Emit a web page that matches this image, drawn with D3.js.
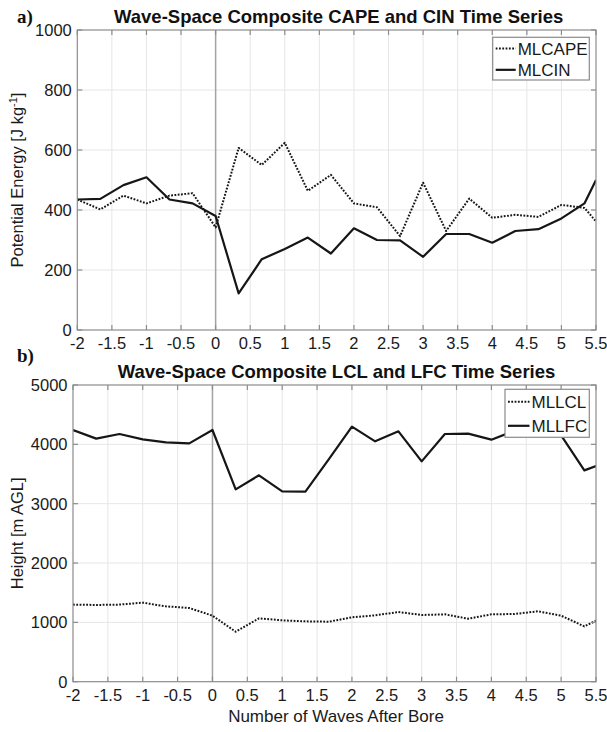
<!DOCTYPE html>
<html>
<head>
<meta charset="utf-8">
<script src="https://cdn.jsdelivr.net/npm/d3@7"></script>
<style>
  html, body { margin: 0; padding: 0; background: #fff; }
  svg { display: block; }
</style>
</head>
<body>
<svg id="fig" width="607" height="732"></svg>
<script>
// Wave-relative sample positions (number of waves after bore)
const waves = [-2, -1.667, -1.333, -1, -0.667, -0.333, 0, 0.333, 0.667, 1, 1.333, 1.667,
               2, 2.333, 2.667, 3, 3.333, 3.667, 4, 4.333, 4.667, 5, 5.333, 5.5];

// Panel a: mixed-layer CAPE and CIN [J kg^-1]
const mlcape = [435, 402, 448, 422, 448, 456, 342, 607, 550, 624, 464, 517,
                422, 409, 313, 491, 330, 438, 374, 384, 377, 417, 407, 362];
const mlcin  = [435, 437, 483, 509, 435, 422, 380, 122, 236, 270, 308, 255,
                339, 300, 299, 244, 320, 320, 291, 330, 336, 372, 422, 500];

// Panel b: mixed-layer LCL and LFC heights [m AGL]
const mllcl = [1299, 1293, 1299, 1332, 1270, 1242, 1113, 842, 1068, 1034, 1017, 1011,
               1085, 1118, 1175, 1124, 1135, 1062, 1135, 1141, 1186, 1113, 932, 1028];
const mllfc = [4242, 4096, 4174, 4084, 4034, 4017, 4242, 3242, 3478, 3208, 3202, 3747,
               4298, 4051, 4219, 3713, 4174, 4180, 4079, 4230, 4240, 4152, 3561, 3634];

// Axis ticks
const xTicks = [-2, -1.5, -1, -0.5, 0, 0.5, 1, 1.5, 2, 2.5, 3, 3.5, 4, 4.5, 5, 5.5];
const yTicksA = [0, 200, 400, 600, 800, 1000];
const yTicksB = [0, 1000, 2000, 3000, 4000, 5000];

const svg = d3.select("#fig");
svg.append("rect").attr("width", 607).attr("height", 732).attr("fill", "#fff");

const SANS = "'Liberation Sans', Arial, Helvetica, sans-serif";
const SERIF = "'Liberation Serif', 'Times New Roman', serif";
const FRAME = "#8c8c8c";
const GRID = "#e6e6e6";
const INK = "#161616";
const fmt = v => String(v);   // plain hyphen-minus, no trailing zeros

let clipId = 0;

function panel(opt) {
  const { left, right, top, bottom } = opt.box;
  const x = d3.scaleLinear().domain([-2, 5.5]).range([left, right]);
  const y = d3.scaleLinear().domain(opt.yDomain).range([bottom, top]);
  const g = svg.append("g");

  // grid
  g.append("g").selectAll("line").data(xTicks.slice(1, -1)).join("line")
    .attr("x1", d => x(d)).attr("x2", d => x(d))
    .attr("y1", top).attr("y2", bottom)
    .attr("stroke", GRID).attr("stroke-width", 1);
  g.append("g").selectAll("line").data(opt.yTicks.slice(1, -1)).join("line")
    .attr("x1", left).attr("x2", right)
    .attr("y1", d => y(d)).attr("y2", d => y(d))
    .attr("stroke", GRID).attr("stroke-width", 1);

  // bore passage marker at zero waves
  g.append("line")
    .attr("x1", x(0)).attr("x2", x(0)).attr("y1", top).attr("y2", bottom)
    .attr("stroke", "#a3a3a3").attr("stroke-width", 1.5);

  // series
  const id = "clip" + (clipId++);
  svg.append("clipPath").attr("id", id).append("rect")
    .attr("x", left).attr("y", top).attr("width", right - left).attr("height", bottom - top);
  const line = d3.line().x(d => x(d[0])).y(d => y(d[1]));
  opt.series.forEach(s => {
    g.append("path")
      .attr("clip-path", `url(#${id})`)
      .attr("d", line(waves.map((w, i) => [w, s.values[i]])))
      .attr("fill", "none").attr("stroke", INK)
      .attr("stroke-width", s.dotted ? 2 : 2.2)
      .attr("stroke-dasharray", s.dotted ? "1.8,1.5" : null)
      .attr("stroke-linejoin", "round");
  });

  // frame
  g.append("rect").attr("x", left).attr("y", top)
    .attr("width", right - left).attr("height", bottom - top)
    .attr("fill", "none").attr("stroke", FRAME).attr("stroke-width", 1.2);

  // inward ticks on all four sides
  const tl = 5;
  const tk = g.append("g").attr("stroke", FRAME).attr("stroke-width", 1.2);
  xTicks.forEach(t => {
    tk.append("line").attr("x1", x(t)).attr("x2", x(t)).attr("y1", bottom).attr("y2", bottom - tl);
    tk.append("line").attr("x1", x(t)).attr("x2", x(t)).attr("y1", top).attr("y2", top + tl);
  });
  opt.yTicks.forEach(t => {
    tk.append("line").attr("x1", left).attr("x2", left + tl).attr("y1", y(t)).attr("y2", y(t));
    tk.append("line").attr("x1", right).attr("x2", right - tl).attr("y1", y(t)).attr("y2", y(t));
  });

  // tick labels
  g.append("g").selectAll("text").data(xTicks).join("text")
    .attr("x", d => x(d)).attr("y", bottom + 19)
    .attr("text-anchor", "middle")
    .attr("font-family", SANS).attr("font-size", 16.5).attr("fill", "#1a1a1a")
    .text(fmt);
  g.append("g").selectAll("text").data(opt.yTicks).join("text")
    .attr("x", left - 5.5).attr("y", d => y(d) + 6)
    .attr("text-anchor", "end")
    .attr("font-family", SANS).attr("font-size", 16.5).attr("fill", "#1a1a1a")
    .text(fmt);

  // title and panel letter
  svg.append("text")
    .attr("x", (left + right) / 2 + 2).attr("y", top - 7)
    .attr("text-anchor", "middle")
    .attr("font-family", SANS).attr("font-weight", "bold").attr("font-size", 18.5)
    .attr("fill", "#111").text(opt.title);
  svg.append("text")
    .attr("x", 17).attr("y", opt.letterY)
    .attr("font-family", SERIF).attr("font-weight", "bold").attr("font-size", 19)
    .attr("fill", "#111").text(opt.letter);

  // y-axis label
  const yl = svg.append("text")
    .attr("transform", `translate(23,${(top + bottom) / 2}) rotate(-90)`)
    .attr("text-anchor", "middle")
    .attr("font-family", SANS).attr("font-size", 16.5).attr("fill", "#1a1a1a");
  opt.ylabel(yl);

  // legend
  const L = opt.legend;
  const lg = svg.append("g");
  lg.append("rect").attr("x", L.x).attr("y", L.y).attr("width", L.w).attr("height", L.h)
    .attr("fill", "#fff").attr("stroke", "#8a8a8a").attr("stroke-width", 1.2);
  opt.series.forEach((s, i) => {
    const cy = L.y + L.h * (i + 0.5) / opt.series.length + 0.5;
    lg.append("line")
      .attr("x1", L.x + 3).attr("x2", L.x + 3 + L.sample)
      .attr("y1", cy).attr("y2", cy)
      .attr("stroke", INK).attr("stroke-width", s.dotted ? 2 : 2.2)
      .attr("stroke-dasharray", s.dotted ? "1.8,1.5" : null);
    lg.append("text")
      .attr("x", L.x + 5 + L.sample).attr("y", cy + 6.2)
      .attr("font-family", SANS).attr("font-size", 17).attr("fill", "#1a1a1a")
      .text(s.name);
  });
}

panel({
  box: { left: 77.3, right: 596, top: 30, bottom: 330 },
  yDomain: [0, 1000], yTicks: yTicksA,
  series: [{ name: "MLCAPE", values: mlcape, dotted: true },
           { name: "MLCIN", values: mlcin, dotted: false }],
  title: "Wave-Space Composite CAPE and CIN Time Series",
  letter: "a)", letterY: 23,
  ylabel: t => {
    t.append("tspan").text("Potential Energy [J kg");
    t.append("tspan").attr("dy", -6).attr("font-size", 11).text("-1");
    t.append("tspan").attr("dy", 6).text("]");
  },
  legend: { x: 492.7, y: 37.3, w: 96.6, h: 42.7, sample: 20 }
});

panel({
  box: { left: 73, right: 596, top: 385, bottom: 681.7 },
  yDomain: [0, 5000], yTicks: yTicksB,
  series: [{ name: "MLLCL", values: mllcl, dotted: true },
           { name: "MLLFC", values: mllfc, dotted: false }],
  title: "Wave-Space Composite LCL and LFC Time Series",
  letter: "b)", letterY: 362,
  ylabel: t => t.text("Height [m AGL]"),
  legend: { x: 505, y: 389.3, w: 84.3, h: 48, sample: 21.5 }
});

// shared x-axis label
svg.append("text")
  .attr("x", 336).attr("y", 722)
  .attr("text-anchor", "middle")
  .attr("font-family", SANS).attr("font-size", 17).attr("fill", "#1a1a1a")
  .text("Number of Waves After Bore");
</script>
</body>
</html>
